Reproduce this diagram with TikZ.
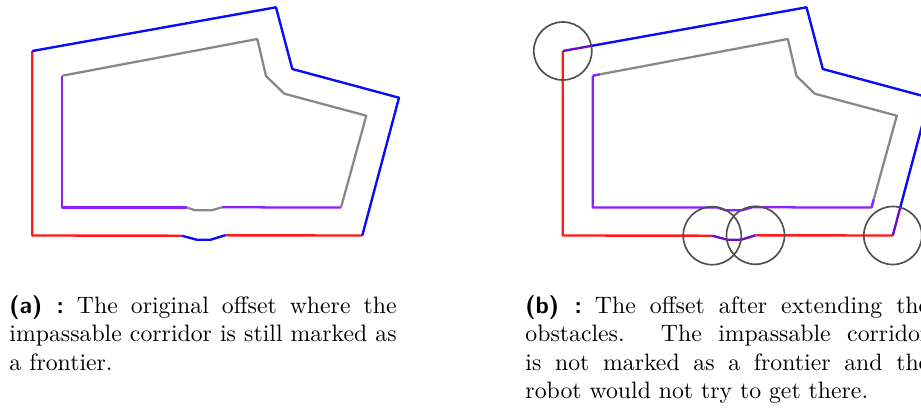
\documentclass[tikz,border=0pt]{standalone}
\usepackage{tikz}
\usetikzlibrary{calc,positioning}

\definecolor{frontred}{RGB}{255,25,25}
\definecolor{obstblue}{RGB}{10,10,255}
\definecolor{innerpurple}{RGB}{140,30,255}
\definecolor{innergray}{RGB}{135,135,135}
\definecolor{probegray}{RGB}{80,80,80}
\definecolor{mixpurple}{RGB}{105,15,200}

\newcommand\sublabel[1]{\textsf{\bfseries #1~:}\hspace{0.55em}}
% corners of the outer and inner offset
\newcommand\placecorners{%
  \foreach \n/\x/\y in {A1/32.3/51,A2/276/7.3,A3/292.3/69,A4/399/97.7,
                        A5/362.3/235.5,A6/32.3/235.5,
                        B1/225/235.3,B2/210.7/239.7,B3/196.7/239.7,B4/181.7/235.7,
                        I1/62.3/75.7,I2/257.3/39,I3/266/76,I4/284.3/93.7,
                        I5/366.3/115.7,I6/341/207.5,I7/62.3/207.5,
                        J1/221.7/207.3,J2/211.7/210.3,J3/195/210.3,J4/186.7/207.5}
    {\coordinate (\n) at (\x,\y);}}

\begin{document}
\begin{tikzpicture}[x=0.421pt,y=-0.421pt,
  front/.style={draw=frontred,line width=1pt,line join=round},
  obst/.style={draw=obstblue,line width=1pt,line join=round},
  mixed/.style={draw=mixpurple,line width=1pt,line join=round},
  innerfront/.style={draw=innerpurple,line width=0.95pt,line join=round},
  innerobst/.style={draw=innergray,line width=0.95pt,line join=round},
  probe/.style={draw=probegray,line width=0.7pt},
  caption/.style={anchor=north west,inner sep=0pt,align=justify,font=\normalsize}]
  \useasboundingbox (0,0) rectangle (921,408);

  % (a) original offset
  \begin{scope}
    \placecorners
    \draw[front] (B4) -- (A6) -- (A1);
    \draw[front] (A5) -- (B1);
    \draw[obst] (A1) -- (A2) -- (A3) -- (A4) -- (A5);
    \draw[obst] (B1) -- (B2) -- (B3) -- (B4);
    \draw[innerfront] (I6) -- (J1);
    \draw[innerfront] (J4) -- (I7) -- (I1);
    \draw[innerobst] (I1) -- (I2) -- (I3) -- (I4) -- (I5) -- (I6);
    \draw[innerobst] (J1) -- (J2) -- (J3) -- (J4);
  \end{scope}

  % (b) offset after extending the obstacles
  \begin{scope}[shift={(530.5,0)}]
    \placecorners
    \coordinate (P) at ($(A1)!12.2pt!(A2)$);
    \coordinate (Q) at ($(A5)!12.2pt!(A4)$);
    \draw[front] (B4) -- (A6) -- (A1);
    \draw[front] (B1) -- (A5);
    \draw[mixed] (A1) -- (P);
    \draw[mixed] (A5) -- (Q);
    \draw[obst] (P) -- (A2) -- (A3) -- (A4) -- (Q);
    \draw[mixed] (B1) -- (B2) -- (B3) -- (B4);
    \draw[innerobst] (I1) -- (I2) -- (I3) -- (I4) -- (I5) -- (I6);
    \draw[innerfront] (I6) -- (J1) -- (J2) -- (J3) -- (J4) -- (I7) -- (I1);
    \draw[innerfront] (I1) -- ($(I1)!3pt!(I2)$);
    \draw[innerfront] (I6) -- ($(I6)!3.5pt!(I5)$);
    \foreach \c in {A1,B4,B1,A5} {\draw[probe] (\c) circle[radius=29];}
  \end{scope}

  \node[caption,text width=163pt] (capa) at (9,293)
    {\strut\sublabel{(a)}The original offset where the\linebreak
     impassable corridor is still marked as\linebreak a frontier.};
  \node[caption,text width=170pt] (capb) at (525,293)
    {\strut\sublabel{(b)}The offset after extending the\linebreak
     obstacles. The impassable corridor\linebreak
     is not marked as a frontier and the\linebreak
     robot would not try to get there.};
\end{tikzpicture}
\end{document}
